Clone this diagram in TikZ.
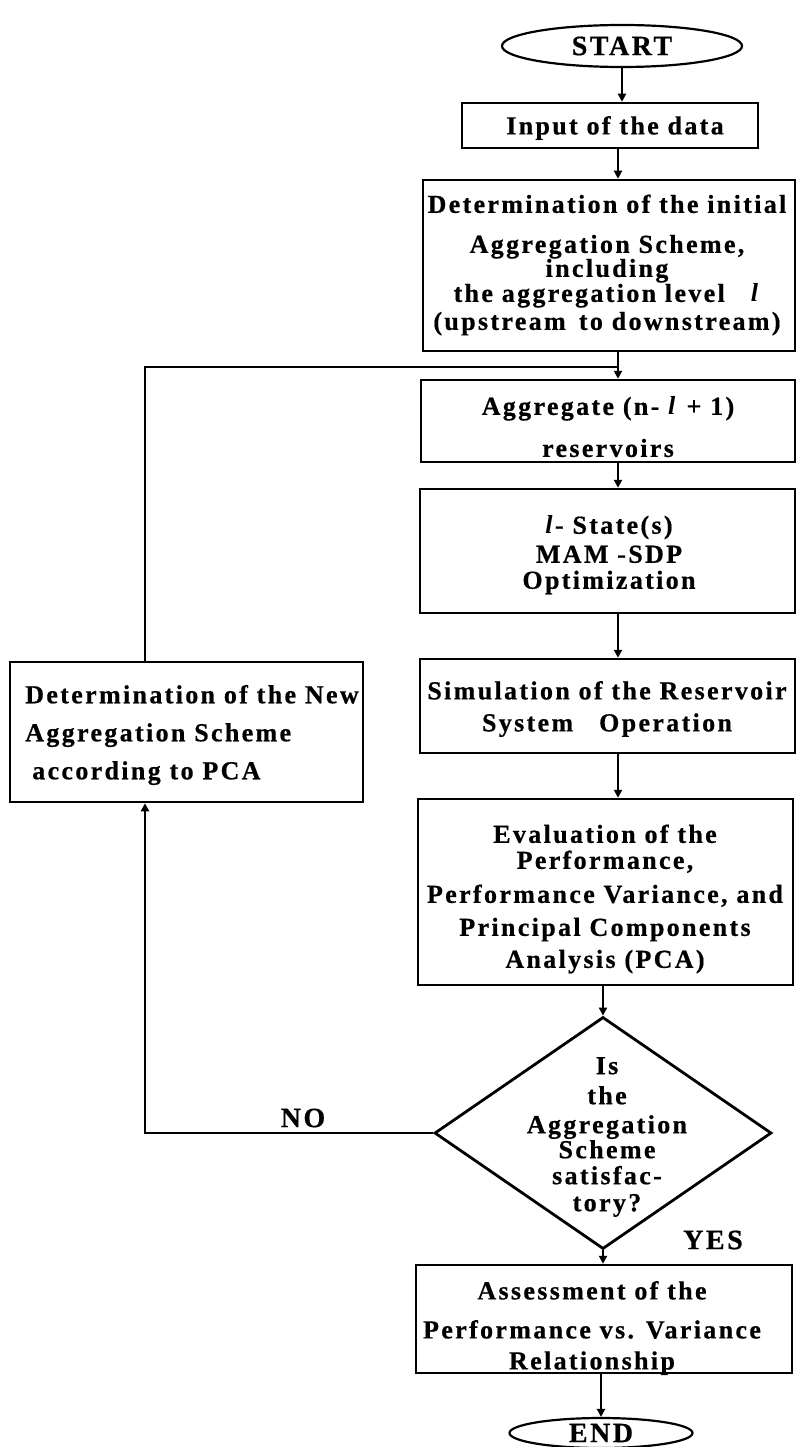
\documentclass[tikz,border=0pt]{standalone}
\usepackage{fontspec}
\setmainfont{Liberation Serif}[LetterSpace=9, BoldFeatures={FakeBold=0.6}]
\usetikzlibrary{shapes.geometric,arrows.meta}

\begin{document}
\begin{tikzpicture}[x=1pt,y=-1pt,
  box/.style={draw, line width=2.5pt, rectangle, inner sep=0pt},
  term/.style={draw, ellipse, line width=2.2pt, inner sep=0pt,
    font=\bfseries\fontsize{28}{30}\selectfont},
  decision/.style={draw, diamond, line width=2.8pt, inner sep=0pt},
  txt/.style={align=center, inner sep=0pt,
    font=\bfseries\fontsize{26}{30}\selectfont},
  txtl/.style={txt, align=left},
  lbl/.style={inner sep=0pt, font=\bfseries\fontsize{28}{30}\selectfont},
  flow/.style={line width=2pt, -{Triangle[length=8pt,width=8pt]}},
  link/.style={line width=2pt}
]
\useasboundingbox (0,0) rectangle (796,1447);

% columns used by the connectors
\coordinate (axis) at (618,0);
\coordinate (back) at (145,0);
\coordinate (join) at (618,367);

% terminals
\node[term, minimum width=240pt, minimum height=42pt] (start) at (622,46) {START};
\node[term, minimum width=183pt, minimum height=30pt] (end) at (601,1433) {END};

% process boxes
\node[box, minimum width=296pt, minimum height=45pt] (input) at (610,125.5) {};
\node[txt] (input-t) at (615,128) {Input of the data};

\node[box, minimum width=372pt, minimum height=171pt] (init) at (609,265.5) {};
\node[txt] (init-t) at (607,265) {Determination of the initial\\[10pt]
  Aggregation Scheme,\\[-6pt]
  including\\[-5pt]
  the aggregation level\hspace{26pt}\textit{l}\\[-2pt]
  (upstream\, to downstream)};

\node[box, minimum width=374pt, minimum height=82pt] (agg) at (608,421) {};
\node[txt] (agg-t) at (608,427) {Aggregate (n- \textit{l} + 1)\\[12pt]reservoirs};

\node[box, minimum width=375pt, minimum height=124pt] (state) at (607.5,551) {};
\node[txt] (state-t) at (609,555) {\textit{l}- State(s)\\[-1pt]MAM -SDP\\[-4pt]Optimization};

\node[box, minimum width=375pt, minimum height=94pt] (sim) at (607.5,706) {};
\node[txt] (sim-t) at (607,709) {Simulation of the Reservoir\\[2pt]System\quad Operation};

\node[box, minimum width=375pt, minimum height=186pt] (eval) at (605.5,892) {};
\node[txt] (eval-t) at (605,899) {Evaluation of the\\[-4pt]
  Performance,\\[4pt]
  Performance Variance, and\\[3pt]
  Principal Components\\[2pt]
  Analysis (PCA)};

% decision
\node[decision, minimum width=337pt, minimum height=232pt] (check) at (603,1133) {};
\node[txt] (check-t) at (607,1137) {Is\\
  the\\[-1pt]
  Aggregation\\[-5pt]
  Scheme\\[-4pt]
  satisfac-\\[-3pt]
  tory?};

\node[box, minimum width=376pt, minimum height=108pt] (assess) at (604,1319) {};
\node[txt] (assess-t) at (592,1328) {Assessment of the\\[9pt]
  Performance vs. Variance\\[1pt]
  Relationship};

\node[box, minimum width=353pt, minimum height=140pt] (new) at (186.5,732) {};
\node[txtl] (new-t) at (192,735) {Determination of the New\\[8pt]
  Aggregation Scheme\\[8pt]
  \hspace{7pt}according to PCA};

% branch labels
\node[lbl] (no) at (303,1118) {NO};
\node[lbl] (yes) at (713,1240) {YES};

% main flow
\draw[flow] (start.south) -- (start.south |- input.north);
\draw[flow] (input.south -| axis) -- (init.north -| axis);
\draw[flow] (init.south -| axis) -- (agg.north -| axis);
\draw[flow] (agg.south -| axis) -- (state.north -| axis);
\draw[flow] (state.south -| axis) -- (sim.north -| axis);
\draw[flow] (sim.south -| axis) -- (eval.north -| axis);
\draw[flow] (eval.south -| check.north) -- (check.north);
\draw[flow] (check.south) -- (check.south |- assess.north);
\draw[flow] (assess.south -| end.north) -- (end.north);

% loop back through the new aggregation scheme
\draw[flow] (check.west) -| (back |- new.south);
\draw[link] (back |- new.north) |- (join);
\end{tikzpicture}
\end{document}
